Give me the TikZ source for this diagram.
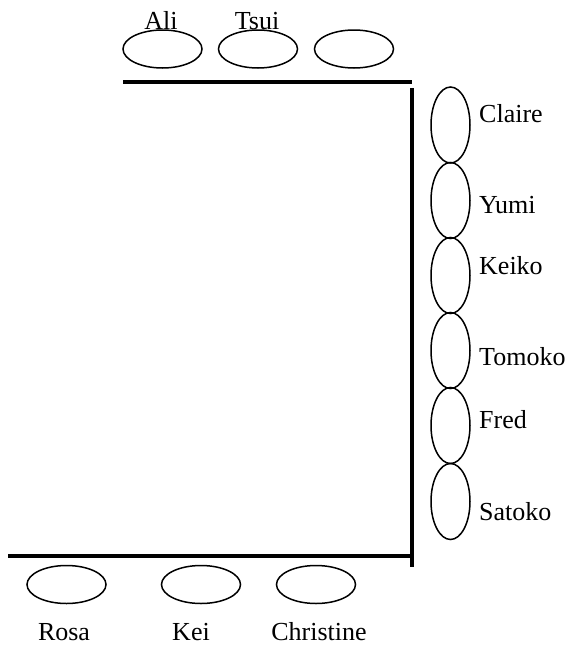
\documentclass[tikz,border=0pt]{standalone}
\usepackage{fontspec}
\setmainfont{Liberation Serif}
\usetikzlibrary{shapes.geometric}
\begin{document}
\begin{tikzpicture}[x=1pt,y=-1pt,
  seathz/.style={draw,ellipse,line width=1.5pt,minimum width=79pt,minimum height=38pt,inner sep=0pt},
  seatvt/.style={draw,ellipse,line width=1.5pt,minimum width=39pt,minimum height=76pt,inner sep=0pt},
  wall/.style={line width=4pt},
  lbl/.style={font=\fontsize{26}{30}\selectfont,inner sep=0pt,anchor=base}]
\useasboundingbox (0,0) rectangle (573,649);
% top seats
\node[seathz] (t1) at (162.5,49) {};
\node[seathz] (t2) at (258,49) {};
\node[seathz] (t3) at (354,49) {};
\node[lbl] (ali) at (161,29) {Ali};
\node[lbl] (tsui) at (257,29) {Tsui};
% walls
\coordinate (tl) at (123,82);
\coordinate (tr) at (412,82);
\coordinate (vt) at (412,88);
\coordinate (vb) at (412,567);
\coordinate (bl) at (8,556);
\coordinate (br) at (412,556);
\draw[wall] (tl) -- (tr);
\draw[wall] (vt) -- (vb);
\draw[wall] (bl) -- (br);
% right seats
\node[seatvt] (r1) at (450.5,125) {};
\node[seatvt] (r2) at (450.5,200.5) {};
\node[seatvt] (r3) at (450.5,275.5) {};
\node[seatvt] (r4) at (450.5,350.5) {};
\node[seatvt] (r5) at (450.5,425.5) {};
\node[seatvt] (r6) at (450.5,501.5) {};
\node[lbl,anchor=base west] (claire) at (479,122) {Claire};
\node[lbl,anchor=base west] (yumi) at (479,213) {Yumi};
\node[lbl,anchor=base west] (keiko) at (479,274) {Keiko};
\node[lbl,anchor=base west] (tomoko) at (479,365) {Tomoko};
\node[lbl,anchor=base west] (fred) at (479,428) {Fred};
\node[lbl,anchor=base west] (satoko) at (479,520) {Satoko};
% bottom seats
\node[seathz] (b1) at (66.5,584.5) {};
\node[seathz] (b2) at (201,584.5) {};
\node[seathz] (b3) at (316,584.5) {};
\node[lbl] (rosa) at (64,640.5) {Rosa};
\node[lbl] (kei) at (191,640.5) {Kei};
\node[lbl] (christine) at (319,640.5) {Christine};
\end{tikzpicture}
\end{document}
